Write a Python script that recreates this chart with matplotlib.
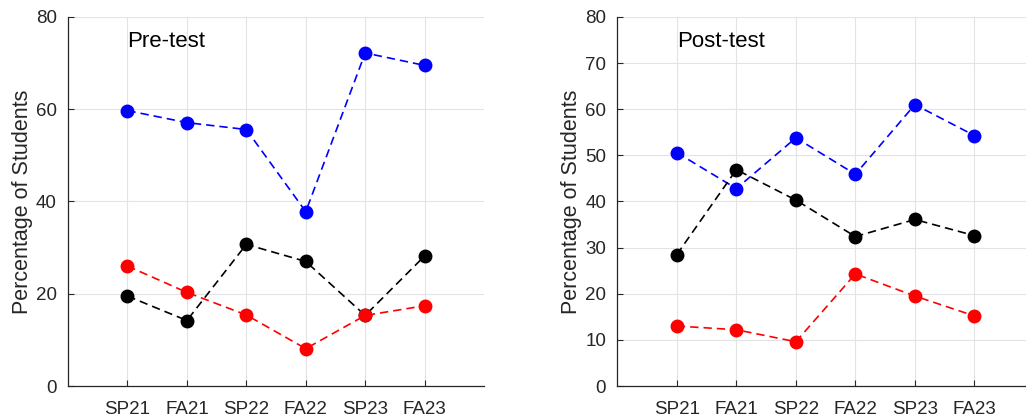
import matplotlib
matplotlib.use("Agg")
import matplotlib.pyplot as plt

plt.rcParams["font.family"] = ["Liberation Sans", "DejaVu Sans"]

semesters = ["SP21", "FA21", "SP22", "FA22", "SP23", "FA23"]

pre_blue = [59.7, 57.1, 55.6, 37.8, 72.2, 69.5]
pre_black = [19.5, 14.2, 30.7, 27.0, 15.3, 28.2]
pre_red = [26.0, 20.3, 15.4, 8.1, 15.3, 17.4]

post_blue = [50.6, 42.8, 53.8, 45.9, 61.0, 54.3]
post_black = [28.5, 46.9, 40.3, 32.4, 36.1, 32.6]
post_red = [13.0, 12.2, 9.6, 24.3, 19.5, 15.2]

AX_COLOR = "#262626"


def draw_panel(ax, blue, black, red, label, yticks):
    x = list(range(1, len(semesters) + 1))
    for vals, col in ((blue, "blue"), (black, "black"), (red, "red")):
        ax.plot(x, vals, "--", color=col, lw=1.2, marker="o", ms=9,
                markerfacecolor=col, markeredgecolor=col, dashes=(5, 3))
    ax.set_xlim(0, 7)
    ax.set_ylim(0, 80)
    ax.set_xticks(x)
    ax.set_xticklabels(semesters)
    ax.set_yticks(yticks)
    ax.grid(True, color="#e3e3e3", lw=0.8)
    ax.set_axisbelow(True)
    for side in ("top", "right"):
        ax.spines[side].set_visible(False)
    for side in ("left", "bottom"):
        ax.spines[side].set_color(AX_COLOR)
        ax.spines[side].set_linewidth(0.9)
    ax.tick_params(direction="in", length=4, width=0.8, colors=AX_COLOR,
                   labelsize=13.5)
    ax.tick_params(axis="x", pad=11)
    ax.tick_params(axis="y", pad=8)
    ax.set_ylabel("Percentage of Students", fontsize=15.5, color=AX_COLOR,
                  labelpad=2)
    ax.text(1, 74.7, label, fontsize=16, color="black", ha="left",
            va="center")


fig = plt.figure(figsize=(10.26, 4.17), dpi=100)
ax1 = fig.add_axes([0.0663, 0.0743, 0.4055, 0.885])
ax2 = fig.add_axes([0.6017, 0.0743, 0.406, 0.885])

draw_panel(ax1, pre_blue, pre_black, pre_red, "Pre-test", range(0, 81, 20))
draw_panel(ax2, post_blue, post_black, post_red, "Post-test", range(0, 81, 10))

fig.savefig("out.png", dpi=100)
